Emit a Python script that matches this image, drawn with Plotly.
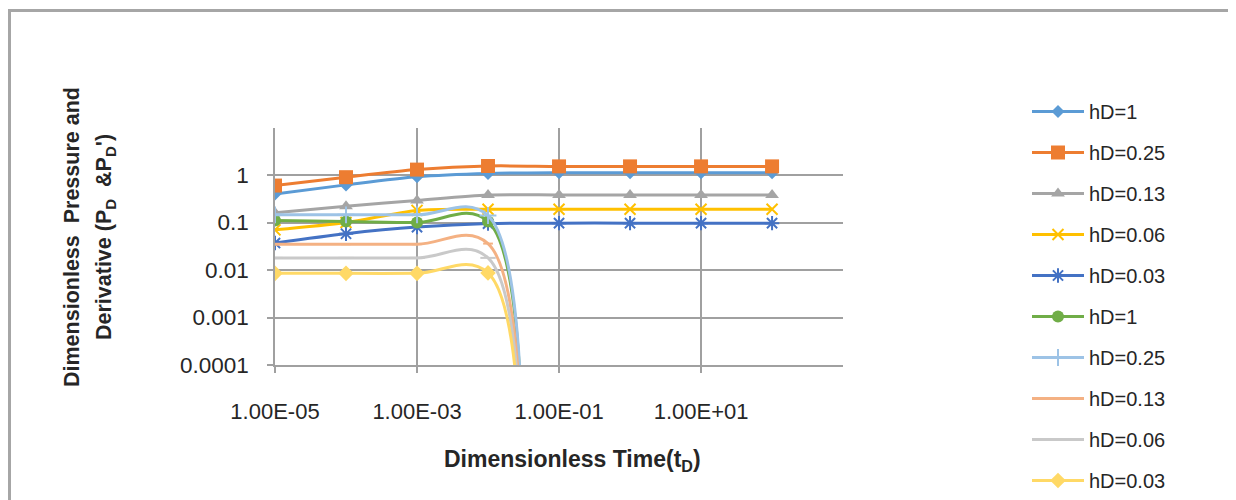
import plotly.graph_objects as go

# Dimensionless time
t_d = [1e-5, 1e-4, 1e-3, 1e-2, 1e-1, 1, 10, 100]

# Dimensionless pressure (PD) series
pd_hd1 = [0.40, 0.62, 0.92, 1.08, 1.12, 1.12, 1.12, 1.12]
pd_hd025 = [0.60, 0.90, 1.30, 1.55, 1.52, 1.52, 1.52, 1.52]
pd_hd013 = [0.16, 0.22, 0.29, 0.38, 0.38, 0.38, 0.38, 0.38]
pd_hd006 = [0.07, 0.10, 0.18, 0.19, 0.19, 0.19, 0.19, 0.19]
pd_hd003 = [0.037, 0.058, 0.08, 0.095, 0.097, 0.097, 0.097, 0.097]

# Derivative (PD') series - effectively zero after the boundary
dpd_hd1 = [0.11, 0.105, 0.10, 0.105, 1e-20, 1e-20, 1e-20, 1e-20]
dpd_hd025 = [0.145, 0.145, 0.145, 0.14, 1e-20, 1e-20, 1e-20, 1e-20]
dpd_hd013 = [0.035, 0.035, 0.035, 0.036, 1e-20, 1e-20, 1e-20, 1e-20]
dpd_hd006 = [0.018, 0.018, 0.018, 0.018, 1e-20, 1e-20, 1e-20, 1e-20]
dpd_hd003 = [0.0085, 0.0085, 0.0085, 0.0087, 1e-20, 1e-20, 1e-20, 1e-20]

names = ["hD=1", "hD=0.25", "hD=0.13", "hD=0.06", "hD=0.03",
         "hD=1", "hD=0.25", "hD=0.13", "hD=0.06", "hD=0.03"]
values = [pd_hd1, pd_hd025, pd_hd013, pd_hd006, pd_hd003,
          dpd_hd1, dpd_hd025, dpd_hd013, dpd_hd006, dpd_hd003]

x_tickvals = [1e-5, 1e-3, 1e-1, 1e1]
x_ticktext = ["1.00E-05", "1.00E-03", "1.00E-01", "1.00E+01"]
y_tickvals = [1e-4, 1e-3, 1e-2, 1e-1, 1]
y_ticktext = ["0.0001", "0.001", "0.01", "0.1", "1"]

colors = ["#5B9BD5", "#ED7D31", "#A5A5A5", "#FFC000", "#4472C4",
          "#70AD47", "#9DC3E6", "#F4B183", "#C9C9C9", "#FFD966"]
symbols = ["diamond", "square", "triangle-up", "x-thin", "asterisk",
           "circle", "cross-thin", "line-ew", "line-ew", "diamond"]
sizes = [10, 14, 12, 11, 12, 12, 12, 7, 11, 12]

fig = go.Figure()
for i, (nm, vals) in enumerate(zip(names, values)):
    c = colors[i]
    sym = symbols[i]
    thin = sym in ("x-thin", "asterisk", "cross-thin", "line-ew")
    marker = dict(symbol=sym, size=sizes[i], color=c,
                  line=dict(color=c, width=2 if thin else 0))
    fig.add_trace(go.Scatter(
        x=t_d, y=vals, name=nm, mode="lines+markers",
        line=dict(color=c, width=3, shape="spline",
                  smoothing=0.8 if i < 5 else 1.05),
        marker=marker, legendgroup=f"g{i}", cliponaxis=True,
    ))

# page body has an 8px margin: figure pixel = screen pixel - 8
W, H = 1228, 492
L, R, T, B = 267, 835, 120, 357
pw, ph = R - L, B - T

def px(xp):
    return (xp - L) / pw

def py(yp):
    return (B - yp) / ph

fig.update_layout(
    width=W, height=H,
    margin=dict(l=L, r=W - R, t=T, b=H - B, pad=0),
    paper_bgcolor="white", plot_bgcolor="white",
    font=dict(family="Liberation Sans, Arial, sans-serif", color="#262626"),
    showlegend=True,
    legend=dict(x=px(1019), y=py(86), xanchor="left", yanchor="top",
                font=dict(size=20, color="#262626"), itemwidth=52,
                tracegroupgap=12, bgcolor="rgba(0,0,0,0)", maxheight=1000),
    xaxis=dict(type="log", range=[-5, 2.999], tickvals=x_tickvals, ticktext=x_ticktext,
               showgrid=True, gridcolor="#A0A0A0", gridwidth=1.5,
               showline=True, linecolor="#A0A0A0", linewidth=1.5,
               ticks="outside", ticklen=6, tickcolor="#A0A0A0", tickwidth=1.5,
               tickfont=dict(size=22), ticklabelstandoff=20, zeroline=False),
    yaxis=dict(type="log", range=[-4, 0.99], tickvals=y_tickvals, ticktext=y_ticktext,
               showgrid=True, gridcolor="#A0A0A0", gridwidth=1.5,
               showline=True, linecolor="#A0A0A0", linewidth=1.5,
               ticks="outside", ticklen=6, tickcolor="#A0A0A0", tickwidth=1.5,
               tickfont=dict(size=22.5), ticklabelstandoff=14, zeroline=False),
    shapes=[dict(type="rect", xref="paper", yref="paper",
                 x0=px(1.5), x1=px(1240), y0=py(510), y1=py(2.5),
                 line=dict(color="#A6A6A6", width=3), fillcolor="rgba(0,0,0,0)",
                 layer="below")],
    annotations=[
        dict(text="<b>Dimensionless Time(t<sub>D</sub>)</b>", xref="paper", yref="paper",
             x=px(564), y=py(452), xanchor="center", yanchor="middle",
             showarrow=False, font=dict(size=23, color="#262626")),
        dict(text="<b>Dimensionless  Pressure and</b>", xref="paper", yref="paper",
             x=px(64), y=py(229), xanchor="center", yanchor="middle", textangle=-90,
             showarrow=False, font=dict(size=21.5, color="#262626")),
        dict(text="<b>Derivative (P<sub>D</sub>  &P<sub>D</sub>')</b>", xref="paper", yref="paper",
             x=px(97), y=py(229), xanchor="center", yanchor="middle", textangle=-90,
             showarrow=False, font=dict(size=21.5, color="#262626")),
    ],
)

fig.write_html("out.html")
